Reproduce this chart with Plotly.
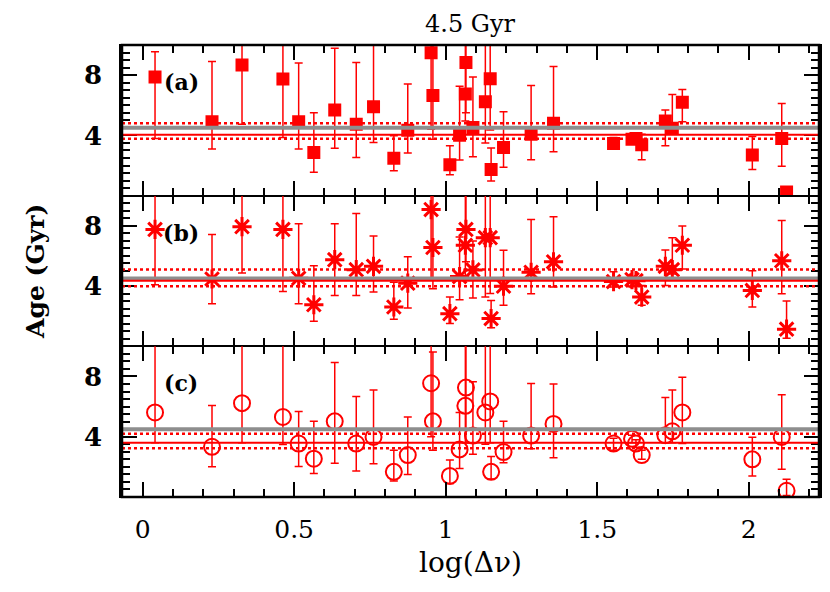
import plotly.graph_objects as go
from plotly.subplots import make_subplots

# log(delta nu) of each star, shared by all three panels
logdnu = [0.041, 0.229, 0.328, 0.463, 0.515, 0.565, 0.634, 0.705, 0.762, 0.829,
          0.875, 0.952, 0.958, 1.014, 1.046, 1.065, 1.067, 1.090, 1.131, 1.147,
          1.150, 1.191, 1.282, 1.356, 1.554, 1.615, 1.628, 1.647, 1.725, 1.748,
          1.781, 2.012, 2.109, 2.125]

# panel (a)
age_a = [7.88, 4.91, 8.68, 7.74, 4.91, 2.87, 5.68, 4.74, 5.90, 2.48,
         4.34, 9.49, 6.64, 2.06, 4.01, 6.75, 8.84, 4.52, 6.23, 7.76,
         1.73, 3.20, 4.08, 4.80, 3.47, 3.75, 3.79, 3.38, 4.96, 4.47,
         6.20, 2.70, 3.79, 0.24]
lo_a = [3.80, 3.09, 4.74, 3.86, 3.09, 1.56, 3.14, 2.54, 3.53, 1.66,
        2.83, 4.41, 3.75, 1.38, 2.37, 4.96, 5.50, 2.59, 3.49, 4.36,
        0.97, 1.89, 2.39, 2.91, 3.20, 3.50, 3.55, 2.39, 3.31, 4.08,
        4.91, 1.73, 1.95, 0.24]
hi_a = [9.56, 8.90, 10.5, 10.5, 8.80, 5.50, 9.78, 8.84, 10.5, 3.97,
        7.41, 10.5, 10.5, 3.31, 7.26, 10.5, 10.5, 7.87, 10.5, 10.5,
        3.16, 5.57, 7.32, 8.57, 3.86, 3.95, 4.00, 4.08, 5.68, 6.71,
        7.04, 3.93, 6.12, 0.24]

# panel (b)
age_b = [7.76, 4.47, 7.94, 7.76, 4.52, 2.76, 5.75, 5.09, 5.31, 2.61,
         4.19, 9.08, 6.56, 2.17, 4.63, 6.71, 7.76, 5.07, 7.21, 7.21,
         1.84, 3.99, 4.91, 5.61, 4.30, 4.43, 4.36, 3.27, 5.31, 5.09,
         6.71, 3.71, 5.68, 1.14]
lo_b = [4.08, 2.83, 4.87, 3.64, 2.83, 1.67, 3.38, 3.38, 3.60, 1.80,
        2.54, 4.40, 3.82, 1.51, 3.09, 4.50, 5.61, 3.20, 3.27, 3.50,
        1.23, 2.72, 3.49, 3.93, 3.93, 4.20, 4.15, 2.72, 4.03, 4.80,
        5.13, 2.61, 3.49, 0.53]
hi_b = [10.5, 7.43, 10.5, 10.5, 8.13, 5.35, 8.13, 8.82, 7.32, 4.25,
        5.94, 10.5, 10.5, 3.27, 7.26, 10.5, 10.5, 6.99, 10.5, 10.5,
        3.05, 6.38, 8.42, 8.60, 4.95, 4.60, 4.55, 4.03, 6.40, 7.21,
        7.98, 5.02, 8.36, 3.01]

# panel (c)
age_c = [5.61, 3.33, 6.23, 5.31, 3.55, 2.54, 5.02, 3.55, 3.99, 1.67,
         2.78, 7.55, 5.02, 1.40, 3.16, 6.05, 7.26, 4.08, 5.61, 6.34,
         1.67, 2.98, 4.08, 4.85, 3.55, 3.86, 3.55, 2.78, 4.10, 4.36,
         5.61, 2.50, 3.99, 0.41]
lo_c = [3.60, 2.00, 3.60, 3.49, 2.02, 1.56, 2.24, 1.73, 2.21, 1.07,
        1.50, 4.00, 3.10, 0.90, 1.89, 3.60, 3.60, 2.83, 3.50, 3.60,
        1.20, 2.28, 3.20, 2.61, 3.10, 3.60, 3.30, 2.50, 3.60, 3.60,
        3.55, 1.40, 1.84, 0.10]
hi_c = [10.5, 6.07, 10.5, 10.5, 5.68, 5.02, 8.93, 6.67, 7.10, 3.11,
        5.31, 10.5, 9.62, 2.45, 5.61, 10.5, 10.5, 7.65, 10.5, 10.5,
        2.68, 5.02, 7.54, 7.50, 3.90, 4.10, 3.80, 3.10, 6.60, 7.10,
        7.94, 3.97, 6.78, 1.18]

true_age = 4.5
mean_age = [4.05, 4.36, 3.60]
upper_age = [4.80, 5.10, 4.19]
lower_age = [3.77, 3.99, 3.24]
panel_names = ["(a)", "(b)", "(c)"]

RED = "#ff0000"
FONT = "DejaVu Serif"

fig = make_subplots(rows=3, cols=1, shared_xaxes=True, vertical_spacing=0)

panels = [(age_a, lo_a, hi_a, dict(symbol="square", size=13, color=RED)),
          (age_b, lo_b, hi_b, dict(symbol="asterisk-open", size=16, color=RED,
                                   line=dict(color=RED, width=3))),
          (age_c, lo_c, hi_c, dict(symbol="circle-open", size=16, color=RED,
                                   line=dict(color=RED, width=2)))]

for i, (age, lo, hi, marker) in enumerate(panels):
    row = i + 1
    yref = "y" if row == 1 else "y%d" % row
    # reference lines: true age (grey), mean and spread (red)
    fig.add_shape(type="line", xref="x domain", yref=yref, x0=0, x1=1,
                  y0=true_age, y1=true_age, line=dict(color="#8e8e8e", width=4))
    fig.add_shape(type="line", xref="x domain", yref=yref, x0=0, x1=1,
                  y0=mean_age[i], y1=mean_age[i], line=dict(color=RED, width=2))
    for v in (upper_age[i], lower_age[i]):
        fig.add_shape(type="line", xref="x domain", yref=yref, x0=0, x1=1,
                      y0=v, y1=v, line=dict(color=RED, width=2.5, dash="dot"))
    fig.add_trace(go.Scatter(
        x=logdnu, y=age, mode="markers", marker=marker, showlegend=False,
        error_y=dict(type="data", symmetric=False,
                     array=[h - a for h, a in zip(hi, age)],
                     arrayminus=[a - l for a, l in zip(age, lo)],
                     color=RED, thickness=1.5, width=4)),
        row=row, col=1)
    fig.add_annotation(text="<b>%s</b>" % panel_names[i], xref="x", yref=yref,
                       x=0.128, y=7.55, showarrow=False,
                       font=dict(family=FONT, size=22, color="black"))
    fig.update_yaxes(range=[0, 10], tickvals=[4, 8], ticktext=["<b>4</b>", "<b>8</b>"],
                     ticks="inside", ticklen=15, tickwidth=2, tickcolor="black",
                     minor=dict(dtick=0.5, tick0=0, ticks="inside", ticklen=8,
                                tickwidth=2, tickcolor="black"),
                     showline=True, linewidth=2.5, linecolor="black", mirror="ticks",
                     showgrid=False, zeroline=False, ticklabelstandoff=12,
                     automargin=False,
                     tickfont=dict(family=FONT, size=26, color="black"),
                     row=row, col=1)

# thin x lines so the shared panel edges do not double up; frame drawn below
fig.update_xaxes(range=[-0.068, 2.232], tickvals=[0, 0.5, 1, 1.5, 2],
                 ticktext=["0", "0.5", "1", "1.5", "2"],
                 ticks="inside", ticklen=15, tickwidth=2, tickcolor="black",
                 minor=dict(dtick=0.1, tick0=0, ticks="inside", ticklen=8,
                            tickwidth=2, tickcolor="black"),
                 showline=True, linewidth=1.3, linecolor="black", mirror="ticks",
                 showgrid=False, zeroline=False, ticklabelstandoff=10,
                 automargin=False,
                 tickfont=dict(family=FONT, size=25, color="black"))

fig.add_shape(type="rect", xref="paper", yref="paper", x0=0, x1=1, y0=0, y1=1,
              line=dict(color="black", width=2.5), layer="above")

fig.add_annotation(text="4.5 Gyr", xref="paper", yref="paper", x=0.5, y=1.046,
                   xanchor="center", yanchor="middle", showarrow=False,
                   font=dict(family=FONT, size=24, color="black"))
fig.add_annotation(text="<b>Age (Gyr)</b>", xref="paper", yref="paper", x=-0.125, y=0.5,
                   xanchor="center", yanchor="middle", textangle=-90, showarrow=False,
                   font=dict(family=FONT, size=25, color="black"))
fig.add_annotation(text="log(Δν)", xref="paper", yref="paper", x=0.5, y=-0.144,
                   xanchor="center", yanchor="middle", showarrow=False,
                   font=dict(family=FONT, size=28, color="black"))

# the page puts the figure 8 px in from the corner, so margins are pulled in
fig.update_layout(width=830, height=592, plot_bgcolor="white", paper_bgcolor="white",
                  margin=dict(l=114, r=19, t=37, b=103))

fig.write_html("out.html")
